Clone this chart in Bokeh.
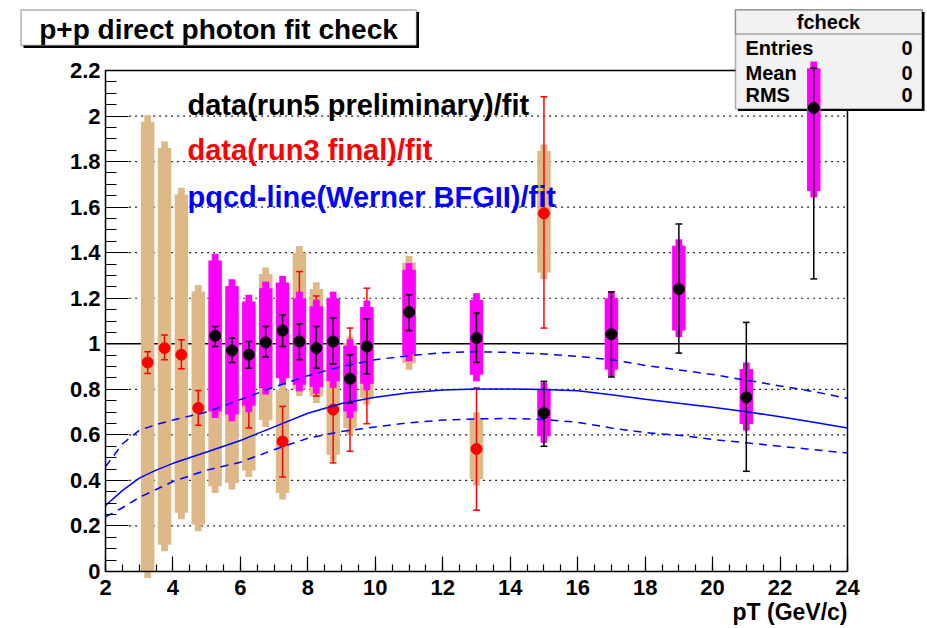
from bokeh.plotting import figure
from bokeh.models import Range1d, FixedTicker, Label, BoxAnnotation, LinearAxis
from bokeh.embed import file_html
from bokeh.resources import INLINE
import numpy as np

# ---------------- data ----------------
# run5 preliminary (black points, magenta systematic boxes)
run5_pt = [5.25, 5.75, 6.25, 6.75, 7.25, 7.75, 8.25, 8.75, 9.25, 9.75, 11, 13, 15, 17, 19, 21, 23]
run5_y = [1.035, 0.971, 0.952, 1.006, 1.058, 1.010, 0.981, 1.010, 0.846, 0.988, 1.139, 1.025, 0.696, 1.042, 1.240, 0.765, 2.036]
run5_stat_hi = [1.076, 1.025, 1.010, 1.076, 1.127, 1.088, 1.076, 1.113, 0.952, 1.110, 1.215, 1.135, 0.835, 1.228, 1.526, 1.094, 2.210]
run5_stat_lo = [0.988, 0.918, 0.893, 0.942, 0.988, 0.930, 0.893, 0.912, 0.740, 0.867, 1.058, 0.918, 0.550, 0.854, 0.959, 0.440, 1.285]
run5_sys_hi = [1.366, 1.254, 1.186, 1.244, 1.269, 1.200, 1.165, 1.200, 0.991, 1.161, 1.325, 1.193, 0.801, 1.200, 1.430, 0.889, 2.210]
run5_sys_lo = [0.703, 0.689, 0.728, 0.806, 0.849, 0.820, 0.810, 0.835, 0.703, 0.825, 0.952, 0.864, 0.594, 0.886, 1.058, 0.648, 1.671]

# run3 final (red points, tan systematic boxes)
run3_pt = [3.25, 3.75, 4.25, 4.75, 5.25, 5.75, 6.25, 6.75, 7.25, 7.75, 8.25, 8.75, 9.25, 9.75, 11, 13, 15]
run3_y = [0.918, 0.981, 0.952, 0.718, 0.780, 0.760, 0.800, 0.985, 0.571, 1.100, 1.000, 0.711, 0.810, 0.946, 1.136, 0.538, 1.573]
run3_stat_hi = [0.965, 1.039, 1.018, 0.795, 0.850, 0.820, 0.970, 1.100, 0.725, 1.317, 1.210, 0.945, 1.069, 1.244, 1.250, 0.806, 2.085]
run3_stat_lo = [0.870, 0.930, 0.890, 0.642, 0.710, 0.700, 0.630, 0.870, 0.415, 0.883, 0.770, 0.477, 0.528, 0.649, 1.020, 0.269, 1.069]
run3_sys_hi = [1.975, 1.860, 1.656, 1.229, 1.190, 1.130, 1.156, 1.306, 0.798, 1.400, 1.241, 0.909, 1.003, 1.130, 1.357, 0.670, 1.846]
run3_sys_lo = [0.000, 0.118, 0.258, 0.206, 0.374, 0.389, 0.444, 0.664, 0.345, 0.800, 0.769, 0.513, 0.630, 0.762, 0.915, 0.406, 1.313]

# pQCD (Werner BFGII) / fit, central and scale band
pqcd_pt = [2, 2.5, 3, 3.5, 4, 5, 6, 7, 8, 9, 10, 11, 12, 13, 14, 15, 16, 17, 18, 19, 20, 21, 22, 23, 24]
pqcd_mid = [0.290, 0.355, 0.410, 0.445, 0.475, 0.525, 0.575, 0.635, 0.695, 0.738, 0.765, 0.785, 0.797, 0.801, 0.801,
            0.799, 0.794, 0.776, 0.756, 0.739, 0.721, 0.701, 0.680, 0.655, 0.630]
pqcd_up = [0.460, 0.560, 0.620, 0.645, 0.665, 0.700, 0.755, 0.810, 0.860, 0.900, 0.930, 0.948, 0.961, 0.965, 0.962,
           0.955, 0.945, 0.930, 0.905, 0.885, 0.865, 0.840, 0.815, 0.790, 0.760]
pqcd_lo = [0.240, 0.280, 0.325, 0.360, 0.395, 0.445, 0.480, 0.535, 0.585, 0.615, 0.635, 0.653, 0.665, 0.670, 0.672,
           0.668, 0.655, 0.630, 0.610, 0.598, 0.580, 0.565, 0.550, 0.535, 0.520]

x_ticks = [2, 4, 6, 8, 10, 12, 14, 16, 18, 20, 22, 24]
y_ticks = [0, 0.2, 0.4, 0.6, 0.8, 1, 1.2, 1.4, 1.6, 1.8, 2, 2.2]
y_tick_labels = ["0", "0.2", "0.4", "0.6", "0.8", "1", "1.2", "1.4", "1.6", "1.8", "2", "2.2"]

x_title = "pT (GeV/c)"
title_text = "p+p direct photon fit check"
legend_texts = ["data(run5 preliminary)/fit", "data(run3 final)/fit", "pqcd-line(Werner BFGII)/fit"]
stats_name = "fcheck"
stats_rows = ["Entries", "Mean", "RMS"]
stats_vals = ["0", "0", "0"]

# ---------------- layout / style ----------------
W, H = 927, 628
FR_L, FR_R, FR_T, FR_B = 105, 847, 70, 571      # ROOT frame position on the canvas (px)
X0, X1, Y0, Y1 = 2, 24, 0, 2.2                  # frame axis limits
sx = (FR_R - FR_L) / (X1 - X0)
sy = (FR_B - FR_T) / (Y1 - Y0)
ST_L, ST_R, ST_T, ST_B = 735, 921.5, 9.5, 108.5  # stats box (px)
BL = 0.3                                          # baseline correction (em)

FONT = "Liberation Sans"
TAN = "#deb887"
MAG = "#ff00ff"
W_BOX = 0.40      # box width (pT units)
W_NAR = 0.20      # narrow end width
EXT = 0.029       # narrow end extension (y units)
CAP = 0.10        # error bar cap half width

p = figure(width=W, height=H, output_backend="svg", toolbar_location=None,
           x_range=Range1d(X0 - FR_L / sx, X1 + (W - FR_R) / sx),
           y_range=Range1d(Y0 - (H - FR_B) / sy, Y1 + FR_T / sy),
           min_border=0, x_axis_location=None, y_axis_location=None)
p.title = None
p.background_fill_color = "white"
p.border_fill_color = "white"
p.outline_line_color = None
p.grid.visible = False


def style_axis(ax):
    ax.axis_line_color = "black"
    ax.axis_line_width = 1.5
    ax.major_tick_line_color = "black"
    ax.minor_tick_line_color = "black"
    ax.major_tick_line_width = 1.2
    ax.minor_tick_line_width = 1.2
    ax.major_tick_out = 0
    ax.minor_tick_out = 0
    ax.major_label_text_font = FONT
    ax.major_label_text_font_style = "bold"
    ax.major_label_text_font_size = "22px"
    ax.major_label_text_color = "black"


xax = LinearAxis(fixed_location=Y0, bounds=(X0, X1),
                 ticker=FixedTicker(ticks=x_ticks, minor_ticks=[float(v) for v in np.arange(X0, X1 + 0.01, 0.5)]))
style_axis(xax)
xax.major_tick_in = 15
xax.minor_tick_in = 7
xax.major_label_standoff = 8
p.add_layout(xax, "below")

yax = LinearAxis(fixed_location=X0, bounds=(Y0, Y1),
                 ticker=FixedTicker(ticks=y_ticks, minor_ticks=[round(float(v), 3) for v in np.arange(Y0, Y1 + 0.0001, 0.05)]))
style_axis(yax)
yax.major_label_overrides = {t: l for t, l in zip(y_tick_labels, y_tick_labels)}
yax.major_tick_in = 23
yax.minor_tick_in = 11
yax.major_label_standoff = 5
p.add_layout(yax, "left")

# frame top and right edges (hidden under the stats box where it overlaps)
top_end = X0 + (ST_L - FR_L) / sx
right_end = Y0 + (FR_B - ST_B) / sy
for loc, side, bnds in ((Y1, "above", (X0, top_end)), (X1, "right", (Y0, right_end))):
    ax = LinearAxis(fixed_location=loc, bounds=bnds, ticker=FixedTicker(ticks=[], minor_ticks=[]))
    ax.axis_line_color = "black"
    ax.axis_line_width = 1.5
    ax.major_label_text_font_size = "0px"
    p.add_layout(ax, side)

# dotted horizontal grid lines (ROOT style)
grid_y = [t for t in y_ticks if 0 < t < 2.2 and t != 1]
p.segment(x0=[2.7] * len(grid_y), x1=[X1] * len(grid_y), y0=grid_y, y1=grid_y,
          line_color="#222222", line_width=1.2, line_dash="2 4")
# reference line at 1
p.segment(x0=[X0], x1=[X1], y0=[1], y1=[1], line_color="black", line_width=1.5)

r3x = np.array(run3_pt)
r5x = np.array(run5_pt)

# run3 systematic boxes (tan)
p.quad(left=r3x - W_NAR / 2, right=r3x + W_NAR / 2, top=np.array(run3_sys_hi) + EXT,
       bottom=np.array(run3_sys_lo) - EXT, fill_color=TAN, line_color=None)
p.quad(left=r3x - W_BOX / 2, right=r3x + W_BOX / 2, top=run3_sys_hi, bottom=run3_sys_lo,
       fill_color=TAN, line_color=None)
# run3 stat errors (red)
p.segment(x0=r3x, x1=r3x, y0=run3_stat_lo, y1=run3_stat_hi, line_color="red", line_width=1.5)
p.segment(x0=r3x - CAP, x1=r3x + CAP, y0=run3_stat_hi, y1=run3_stat_hi, line_color="red", line_width=1.5)
p.segment(x0=r3x - CAP, x1=r3x + CAP, y0=run3_stat_lo, y1=run3_stat_lo, line_color="red", line_width=1.5)
p.scatter(x=run3_pt, y=run3_y, size=11, marker="circle", fill_color="red", line_color="red")

# run5 systematic boxes (magenta)
p.quad(left=r5x - W_NAR / 2, right=r5x + W_NAR / 2, top=np.array(run5_sys_hi) + EXT,
       bottom=np.array(run5_sys_lo) - EXT, fill_color=MAG, line_color=None)
p.quad(left=r5x - W_BOX / 2, right=r5x + W_BOX / 2, top=run5_sys_hi, bottom=run5_sys_lo,
       fill_color=MAG, line_color=None)

# pQCD curves
p.line(pqcd_pt, pqcd_mid, line_color="blue", line_width=1.5)
p.line(pqcd_pt, pqcd_up, line_color="blue", line_width=1.5, line_dash="8 6")
p.line(pqcd_pt, pqcd_lo, line_color="blue", line_width=1.5, line_dash="8 6")

# run5 stat errors (black)
p.segment(x0=r5x, x1=r5x, y0=run5_stat_lo, y1=run5_stat_hi, line_color="black", line_width=1.5)
p.segment(x0=r5x - CAP, x1=r5x + CAP, y0=run5_stat_hi, y1=run5_stat_hi, line_color="black", line_width=1.5)
p.segment(x0=r5x - CAP, x1=r5x + CAP, y0=run5_stat_lo, y1=run5_stat_lo, line_color="black", line_width=1.5)
p.scatter(x=run5_pt, y=run5_y, size=11, marker="circle", fill_color="black", line_color="black")


# ---- texts and boxes in canvas coordinates (y from the top, baseline given) ----
def cbox(l, r, t, b, fill, line=None, lw=1.5, level="annotation"):
    bx = BoxAnnotation(left=l, right=r, top=t, bottom=b, left_units="canvas", right_units="canvas",
                       top_units="canvas", bottom_units="canvas", fill_color=fill, fill_alpha=1.0,
                       line_color=line, line_width=lw, level=level)
    p.add_layout(bx)


def ctext(x, y, text, size, align="left", color="black", level="annotation"):
    p.add_layout(Label(x=x, y=y - BL * size, x_units="canvas", y_units="canvas", text=text, text_font=FONT,
                       text_font_style="bold", text_font_size=f"{size}px", text_align=align,
                       text_baseline="alphabetic", text_color=color, level=level))


# legend-like texts
for txt, col, yy in zip(legend_texts, ["black", "red", "blue"], [113, 158, 205]):
    ctext(187, yy, txt, 29, "left", col)

# x-axis title (right aligned at the frame end, ROOT style)
ctext(FR_R, 618, x_title, 23, "right")

# title box (with ROOT shadow)
cbox(23, 418.5, 11.5, 47.5, "black")
cbox(20.5, 416, 9.5, 45, "white", "black")
ctext(218, 37, title_text, 28, "center")

# stats box (drawn beneath the data, like in ROOT)
cbox(ST_L + 2.5, ST_R + 2.5, ST_T + 2, ST_B + 2, "black", level="underlay")
cbox(ST_L, ST_R, ST_T, ST_B, "#f2f2f2", "black", level="underlay")
cbox(ST_L, ST_R, ST_T, 33.5, "#f2f2f2", "black", level="underlay")
ctext(828, 27, stats_name, 20, "center", level="underlay")
for name, val, yy in zip(stats_rows, stats_vals, [53, 78, 100]):
    ctext(745, yy, name, 20, "left", level="underlay")
    ctext(912, yy, val, 20, "right", level="underlay")

open("out.html", "w").write(file_html(p, INLINE))
